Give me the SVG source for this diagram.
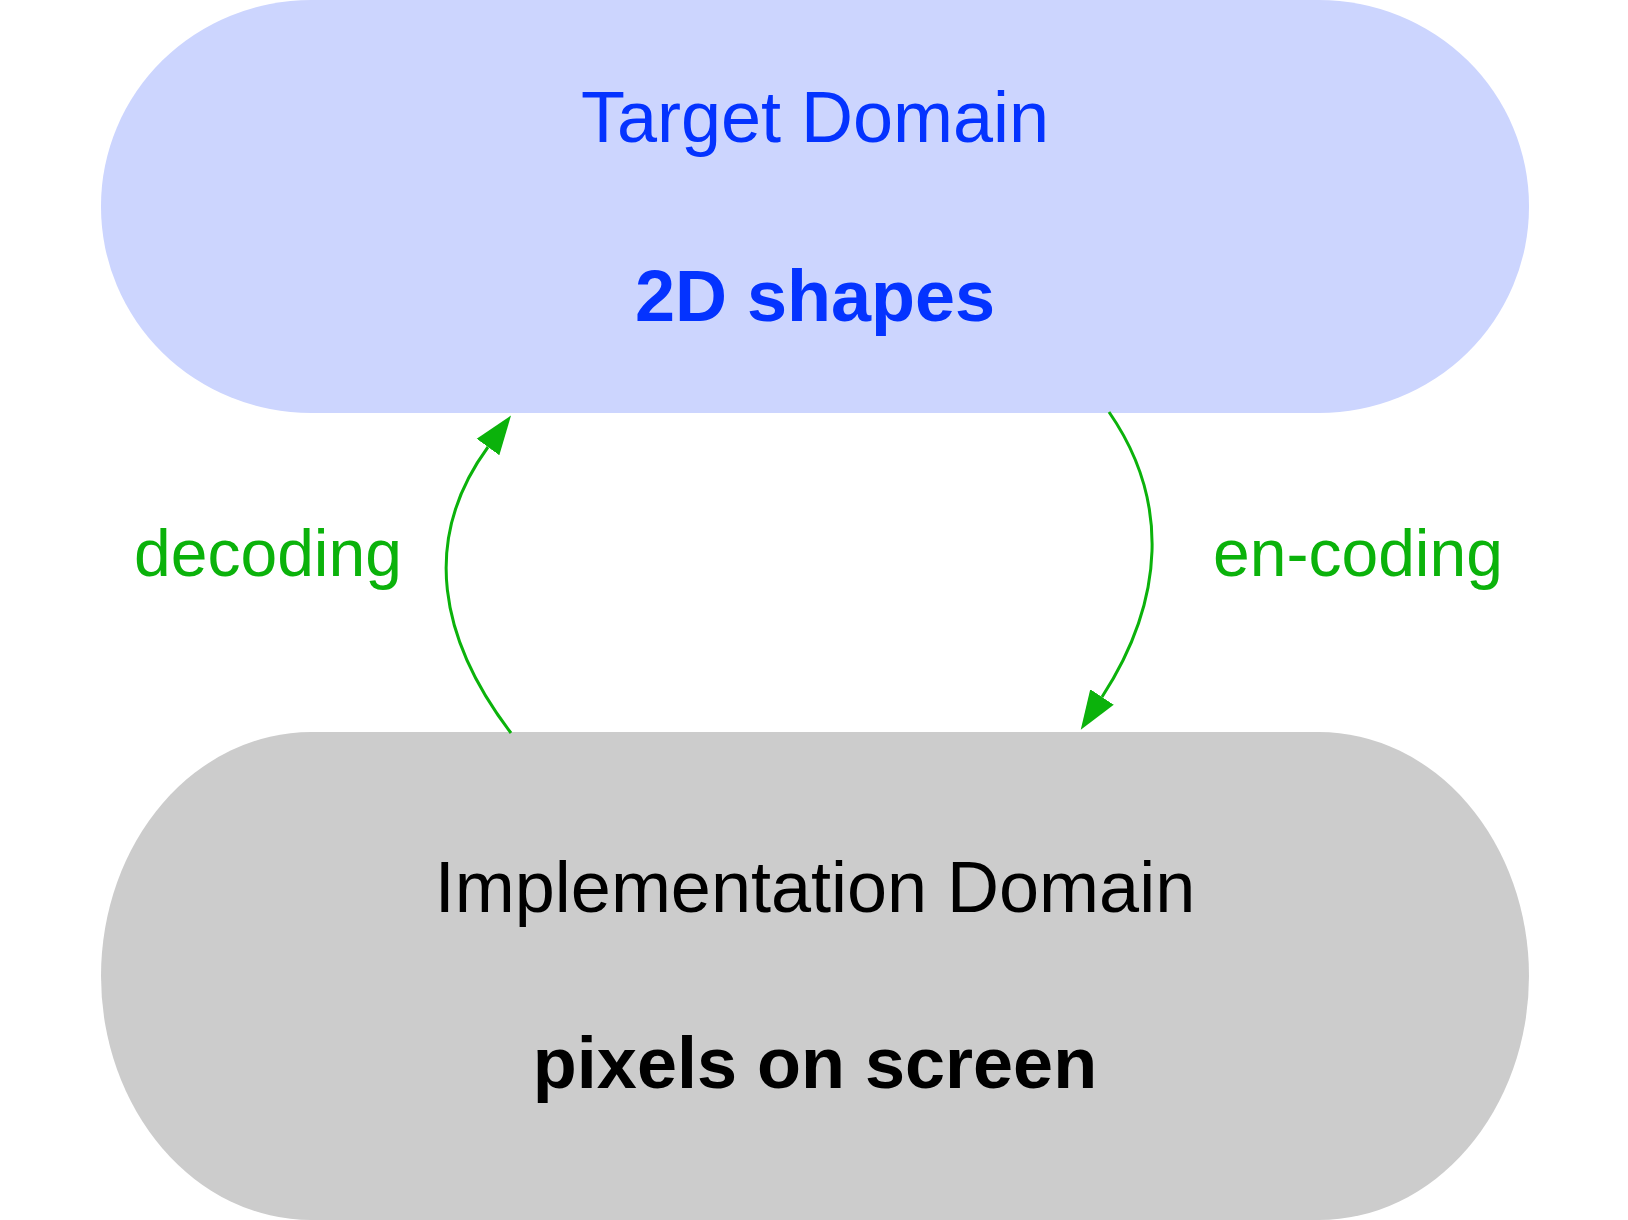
<svg xmlns="http://www.w3.org/2000/svg" width="1628" height="1220" viewBox="0 0 1628 1220">
<style>
.lbl{font-family:"Liberation Sans",Arial,Helvetica,sans-serif;font-size:72px;text-anchor:middle}
.b{font-weight:bold}
.blue{fill:#0433FF}
.blk{fill:#000000}
.edge{fill:none;stroke:#0BB20B;stroke-width:3}
.elbl{font-family:"Liberation Sans",Arial,Helvetica,sans-serif;font-size:66px;text-anchor:middle;fill:#0BB20B}
</style>
<defs>
<marker id="arr" markerUnits="userSpaceOnUse" viewBox="0 -15 40 30" markerWidth="40" markerHeight="30" refX="0" refY="0" orient="auto">
<path d="M0,-14 L39,0 L0,14 z" fill="#0BB20B"/>
</marker>
</defs>
<rect width="1628" height="1220" fill="#ffffff"/>
<g id="target">
<rect x="101" y="0" width="1428" height="413" rx="210" ry="206" fill="#CCD5FE"/>
<text class="lbl blue" x="815" y="142">Target Domain</text>
<text class="lbl b blue" x="815" y="321">2D shapes</text>
</g>
<g id="implementation">
<rect x="101" y="732" width="1428" height="488" rx="210" ry="244" fill="#CCCCCC"/>
<text class="lbl blk" x="815" y="912">Implementation Domain</text>
<text class="lbl b blk" x="815" y="1088">pixels on screen</text>
</g>
<g id="connectors">
<path class="edge" d="M511,733 C440,640 420,540 488,447" marker-end="url(#arr)"/>
<text class="elbl" x="268" y="576">decoding</text>
<path class="edge" d="M1109,412 C1170,500 1165,600 1102,697" marker-end="url(#arr)"/>
<text class="elbl" x="1358" y="576">en-coding</text>
</g>
</svg>
